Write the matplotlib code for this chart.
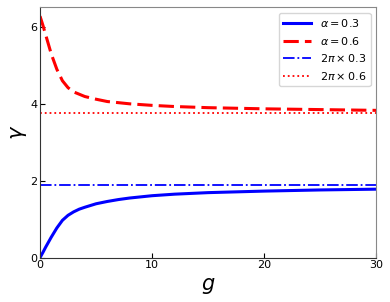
import matplotlib.pyplot as plt
import numpy as np

# values
g_blue = [0, 0.25, 0.5, 0.75, 1, 1.5, 2, 2.5, 3, 3.5, 4, 5, 6, 7, 8, 10, 12, 15, 20, 25, 30]
gamma_blue = [0, 0.13, 0.27, 0.40, 0.53, 0.77, 0.97, 1.10, 1.19, 1.26, 1.31, 1.40, 1.46, 1.51, 1.55, 1.61, 1.65, 1.69, 1.73, 1.76, 1.78]

g_red = [0, 0.25, 0.5, 0.75, 1, 1.5, 2, 2.5, 3, 4, 5, 6, 8, 10, 12, 15, 20, 25, 30]
gamma_red = [6.28, 6.05, 5.80, 5.55, 5.30, 4.90, 4.60, 4.42, 4.31, 4.19, 4.12, 4.06, 4.00, 3.96, 3.93, 3.90, 3.87, 3.85, 3.83]

alphas = [0.3, 0.6]
g_range = [0, 30]

fig = plt.figure(figsize=(3.9, 3.02), dpi=100)
ax = fig.add_axes([0.1026, 0.147, 0.862, 0.83])

ax.plot(g_blue, gamma_blue, color='blue', lw=2.2, label=r'$\alpha=0.3$')
ax.plot(g_red, gamma_red, color='red', lw=2.2, ls=(0, (5, 2)), label=r'$\alpha=0.6$')
ax.plot(g_range, [2 * np.pi * alphas[0]] * 2, color='blue', lw=1.3, ls='-.',
        label=r'$2\pi\times0.3$')
ax.plot(g_range, [2 * np.pi * alphas[1]] * 2, color='red', lw=1.3, ls=':',
        label=r'$2\pi\times0.6$')

ax.set_xlim(0, 30)
ax.set_ylim(0, 6.52)
ax.set_xticks([0, 10, 20, 30])
ax.set_yticks([0, 2, 4, 6])
ax.tick_params(direction='in', labelsize=8, pad=2)
ax.set_xlabel(r'$g$', fontsize=15, labelpad=4)
ax.set_ylabel(r'$\gamma$', fontsize=15, labelpad=1)

for s in ['left', 'bottom']:
    ax.spines[s].set_color('#333333')
for s in ['top', 'right']:
    ax.spines[s].set_color('#888888')

ax.legend(loc='upper right', fontsize=8, handlelength=2.5, borderaxespad=0.5)

plt.savefig('out.png', dpi=100)
